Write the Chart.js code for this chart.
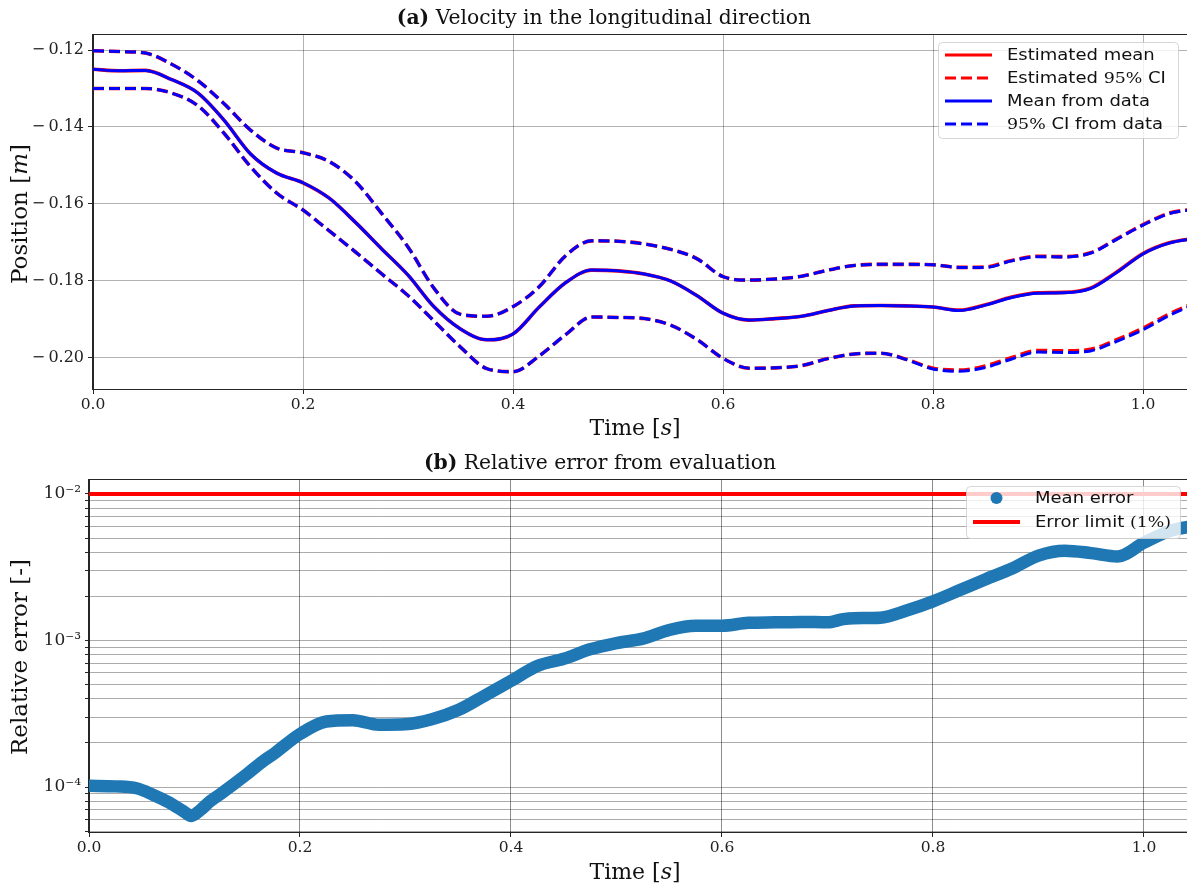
<!DOCTYPE html>
<html>
<head>
<meta charset="utf-8">
<script src="https://cdn.jsdelivr.net/npm/chart.js@4.4.1/dist/chart.umd.min.js"></script>
<style>
  body { margin: 0; width: 1187px; height: 889px; overflow: hidden; background: #fff; position: relative; }
  canvas { position: absolute; left: 0; }
  .txt { position: absolute; font-family: 'DejaVu Serif', serif; color: #111; white-space: nowrap; transform: translate(-50%, -50%); }
  .title { font-size: 20.3px; }
  .xlab { font-size: 22px; }
  .ylab { font-size: 23px; transform: translate(-50%, -50%) rotate(-90deg); }
</style>
</head>
<body>
<canvas id="posChart" width="1250" height="420" style="top:0"></canvas>
<canvas id="errChart" width="1250" height="420" style="top:445px"></canvas>

<div class="txt title" style="left:604px; top:17px"><b>(a)</b> Velocity in the longitudinal direction</div>
<div class="txt xlab" style="left:635px; top:427px">Time [<i>s</i>]</div>
<div class="txt ylab" style="left:19px; top:214px">Position [<i>m</i>]</div>
<div class="txt title" style="left:600px; top:462px"><b>(b)</b> Relative error from evaluation</div>
<div class="txt xlab" style="left:635px; top:871px">Time [<i>s</i>]</div>
<div class="txt ylab" style="left:19px; top:657px">Relative error [-]</div>

<script>
// time grid used by the position curves (s)
const posTime = [0, 0.025, 0.05, 0.075, 0.1, 0.125, 0.15, 0.175, 0.2, 0.225, 0.25, 0.275, 0.3, 0.325,
  0.35, 0.375, 0.4, 0.425, 0.45, 0.475, 0.5, 0.525, 0.55, 0.575, 0.6, 0.625, 0.65, 0.675, 0.7, 0.725,
  0.75, 0.775, 0.8, 0.825, 0.85, 0.875, 0.9, 0.925, 0.95, 0.975, 1.0, 1.025, 1.05];

const meanData = [-0.1250, -0.1254, -0.1253, -0.1277, -0.1312, -0.1383, -0.1470, -0.1520, -0.1545, -0.1585,
  -0.1648, -0.1717, -0.1785, -0.1868, -0.1925, -0.1953, -0.1938, -0.1868, -0.1805, -0.1772, -0.1774,
  -0.1782, -0.1800, -0.1838, -0.1884, -0.1902, -0.1898, -0.1892, -0.1877, -0.1865, -0.1864, -0.1865,
  -0.1868, -0.1877, -0.1863, -0.1843, -0.1832, -0.1831, -0.1820, -0.1778, -0.1730, -0.1702, -0.1690];
const upperData = [-0.1202, -0.1204, -0.1208, -0.1237, -0.1280, -0.1340, -0.1408, -0.1455, -0.1467, -0.1490,
  -0.1542, -0.1625, -0.1712, -0.1820, -0.1887, -0.1892, -0.1867, -0.1815, -0.1735, -0.1696, -0.1697,
  -0.1704, -0.1718, -0.1742, -0.1789, -0.1798, -0.1795, -0.1788, -0.1772, -0.1760, -0.1757, -0.1757,
  -0.1758, -0.1765, -0.1765, -0.1748, -0.1737, -0.1738, -0.1728, -0.1692, -0.1655, -0.1625, -0.1614];
const lowerData = [-0.1300, -0.1300, -0.1300, -0.1312, -0.1345, -0.1417, -0.1503, -0.1572, -0.1616, -0.1670,
  -0.1725, -0.1782, -0.1838, -0.1905, -0.1972, -0.2028, -0.2036, -0.1995, -0.1940, -0.1894, -0.1895,
  -0.1898, -0.1915, -0.1952, -0.2001, -0.2027, -0.2026, -0.2020, -0.2002, -0.1990, -0.1988, -0.2005,
  -0.2029, -0.2035, -0.2025, -0.2003, -0.1985, -0.1986, -0.1982, -0.1957, -0.1927, -0.1890, -0.1860];

// model estimates (almost on top of the data curves)
const estMean = [-0.1250, -0.1254, -0.1253, -0.1277, -0.1312, -0.1383, -0.1470, -0.1520, -0.1545, -0.1585,
  -0.1648, -0.1717, -0.1785, -0.1868, -0.1925, -0.1953, -0.1938, -0.1868, -0.1805, -0.1772, -0.1774,
  -0.1782, -0.1800, -0.1838, -0.1884, -0.1902, -0.1898, -0.1892, -0.1877, -0.1865, -0.1864, -0.1865,
  -0.1868, -0.1876, -0.1862, -0.1842, -0.1831, -0.1830, -0.1819, -0.1777, -0.1729, -0.1701, -0.1689];
const estUpper = [-0.1202, -0.1204, -0.1208, -0.1237, -0.1280, -0.1340, -0.1408, -0.1455, -0.1467, -0.1490,
  -0.1542, -0.1625, -0.1712, -0.1820, -0.1887, -0.1892, -0.1867, -0.1815, -0.1735, -0.1696, -0.1697,
  -0.1704, -0.1718, -0.1742, -0.1789, -0.1798, -0.1795, -0.1788, -0.1772, -0.1760, -0.1757, -0.1757,
  -0.1758, -0.1765, -0.1764, -0.1747, -0.1736, -0.1737, -0.1727, -0.1691, -0.1654, -0.1624, -0.1613];
const estLower = [-0.1300, -0.1300, -0.1300, -0.1312, -0.1345, -0.1417, -0.1503, -0.1572, -0.1616, -0.1670,
  -0.1725, -0.1782, -0.1838, -0.1905, -0.1972, -0.2028, -0.2036, -0.1995, -0.1940, -0.1894, -0.1895,
  -0.1898, -0.1915, -0.1952, -0.2001, -0.2027, -0.2026, -0.2020, -0.2002, -0.1990, -0.1988, -0.2004,
  -0.2027, -0.2032, -0.2021, -0.1999, -0.1981, -0.1982, -0.1978, -0.1953, -0.1923, -0.1886, -0.1856];

// relative error of the evaluation
const errTime = [0, 0.025, 0.045, 0.06, 0.075, 0.09, 0.097, 0.105, 0.115, 0.125, 0.15, 0.165, 0.175, 0.2,
  0.225, 0.25, 0.275, 0.3, 0.325, 0.35, 0.375, 0.4, 0.425, 0.45, 0.475, 0.5, 0.525, 0.55, 0.575, 0.6,
  0.625, 0.65, 0.675, 0.7, 0.715, 0.725, 0.75, 0.775, 0.8, 0.825, 0.85, 0.875, 0.9, 0.925, 0.95, 0.975,
  1.0, 1.025, 1.05];
const errData = [1.02e-4, 1.01e-4, 9.8e-5, 8.9e-5, 7.9e-5, 6.8e-5, 6.35e-5, 6.9e-5, 8.0e-5, 9.0e-5,
  1.23e-4, 1.50e-4, 1.68e-4, 2.30e-4, 2.80e-4, 2.86e-4, 2.66e-4, 2.68e-4, 2.90e-4, 3.35e-4, 4.20e-4,
  5.30e-4, 6.70e-4, 7.50e-4, 8.70e-4, 9.60e-4, 1.03e-3, 1.18e-3, 1.26e-3, 1.26e-3, 1.32e-3, 1.33e-3,
  1.34e-3, 1.33e-3, 1.40e-3, 1.42e-3, 1.43e-3, 1.60e-3, 1.85e-3, 2.20e-3, 2.62e-3, 3.10e-3, 3.80e-3,
  4.10e-3, 3.95e-3, 3.75e-3, 4.65e-3, 5.60e-3, 6.10e-3];
const errLimit = 0.01;

const timeTicks = [0, 0.2, 0.4, 0.6, 0.8, 1.0];
const posTicks = [-0.20, -0.18, -0.16, -0.14, -0.12];
const errExponents = [-5, -4, -3, -2];

const serif = "'DejaVu Serif', serif";
const sans = "'DejaVu Sans', sans-serif";
const sup = { '-': '\u207B', '2': '\u00B2', '3': '\u00B3', '4': '\u2074', '5': '\u2075' };

const pts = (xs, ys) => xs.map((x, i) => ({ x: x, y: ys[i] }));

// frame round the plot area plus a matplotlib style legend box
const framePlugin = {
  id: 'frame',
  afterDatasetsDraw(chart) {
    const a = chart.chartArea, ctx = chart.ctx;
    ctx.save();
    ctx.strokeStyle = '#262626';
    ctx.lineWidth = 1;
    ctx.strokeRect(a.left - 0.5, a.top - 0.5, a.right - a.left + 1, a.bottom - a.top + 1);
    ctx.restore();
  },
  afterDraw(chart, args, opts) {
    if (!opts.box) return;
    const ctx = chart.ctx, b = opts.box;
    ctx.save();
    ctx.fillStyle = 'rgba(255,255,255,0.8)';
    ctx.strokeStyle = 'rgba(204,204,204,0.8)';
    ctx.lineWidth = 1;
    ctx.beginPath();
    ctx.roundRect(b.x + 0.5, b.y + 0.5, b.w, b.h, 4);
    ctx.fill();
    ctx.stroke();
    opts.items.forEach((it, i) => {
      const y = b.y + opts.rowTop + i * opts.rowGap;
      const x0 = b.x + 7, x1 = x0 + 47;
      if (it.dot) {
        ctx.fillStyle = it.color;
        ctx.beginPath();
        ctx.arc((x0 + x1) / 2, y, 6, 0, Math.PI * 2);
        ctx.fill();
      } else {
        ctx.strokeStyle = it.color;
        ctx.lineWidth = it.width;
        ctx.setLineDash(it.dash || []);
        ctx.beginPath();
        ctx.moveTo(x0, y);
        ctx.lineTo(x1, y);
        ctx.stroke();
        ctx.setLineDash([]);
      }
      // label text is a little wide, so stretch it horizontally
      ctx.save();
      ctx.translate(b.x + opts.textLeft, y + 1);
      ctx.scale(1.2, 1);
      let tx = 0;
      ctx.fillStyle = '#111';
      ctx.textBaseline = 'middle';
      it.text.forEach(seg => {
        ctx.font = (seg[1] === 'serif' ? '14.5px ' + serif : '15px ' + sans);
        ctx.fillText(seg[0], tx, 0);
        tx += ctx.measureText(seg[0]).width;
      });
      ctx.restore();
    });
    ctx.restore();
  }
};

const tickFont = { family: serif, size: 15.5 };

new Chart(document.getElementById('posChart'), {
  type: 'line',
  data: {
    datasets: [
      { data: pts(posTime, meanData), borderColor: '#0000ff', borderWidth: 3 },
      { data: pts(posTime, upperData), borderColor: '#0000ff', borderWidth: 3, borderDash: [11, 5] },
      { data: pts(posTime, lowerData), borderColor: '#0000ff', borderWidth: 3, borderDash: [11, 5] },
      { data: pts(posTime, estMean), borderColor: '#ff0000', borderWidth: 3.6 },
      { data: pts(posTime, estUpper), borderColor: '#ff0000', borderWidth: 3.6, borderDash: [11, 5] },
      { data: pts(posTime, estLower), borderColor: '#ff0000', borderWidth: 3.6, borderDash: [11, 5] }
    ]
  },
  options: {
    responsive: false,
    animation: false,
    events: [],
    layout: { padding: { top: 35, right: 2, left: 0, bottom: 0 } },
    elements: { point: { radius: 0 }, line: { cubicInterpolationMode: 'monotone', fill: false } },
    datasets: { line: { clip: 0 } },
    plugins: {
      legend: { display: false },
      tooltip: { enabled: false },
      frame: {
        box: { x: 938, y: 42, w: 240, h: 96 },
        rowTop: 13, rowGap: 23, textLeft: 69,
        items: [
          { color: '#ff0000', width: 3, text: [['Estimated mean', 'sans']] },
          { color: '#ff0000', width: 3, dash: [11, 5], text: [['Estimated ', 'sans'], ['95%', 'serif'], [' CI', 'sans']] },
          { color: '#0000ff', width: 3, text: [['Mean from data', 'sans']] },
          { color: '#0000ff', width: 3, dash: [11, 5], text: [['95%', 'serif'], [' CI from data', 'sans']] }
        ]
      }
    },
    scales: {
      x: {
        type: 'linear', min: 0, max: 1.1,
        afterBuildTicks: s => { s.ticks = timeTicks.map(v => ({ value: v })); },
        afterFit: s => { s.height = 31; },
        grid: { color: 'rgba(0,0,0,0.3)', tickColor: '#262626', tickLength: 5 },
        border: { color: '#262626' },
        ticks: { font: tickFont, color: '#222', padding: 2, maxRotation: 0, autoSkip: false,
          callback: v => v.toFixed(1) }
      },
      y: {
        type: 'linear', min: -0.2081, max: -0.1161,
        afterBuildTicks: s => { s.ticks = posTicks.map(v => ({ value: v })); },
        afterFit: s => { s.width = 93; },
        grid: { color: 'rgba(0,0,0,0.3)', tickColor: '#262626', tickLength: 5 },
        border: { color: '#262626' },
        ticks: { font: { family: serif, size: 16 }, color: '#222', padding: 4, autoSkip: false,
          callback: v => '\u2212\u2009' + Math.abs(v).toFixed(2) }
      }
    }
  },
  plugins: [framePlugin]
});

// log ticks: 1..9 times each power of ten, labelled only at the decades
const errTicks = [];
errExponents.forEach(e => {
  for (let m = 1; m <= 9; m++) errTicks.push(m * Math.pow(10, e));
});
const decadeLabel = v => {
  const e = Math.round(Math.log10(v));
  if (Math.abs(v / Math.pow(10, e) - 1) > 1e-6) return '';
  return '10' + String(e).split('').map(c => sup[c]).join('');
};

new Chart(document.getElementById('errChart'), {
  type: 'line',
  data: {
    datasets: [
      { data: [{ x: 0, y: errLimit }, { x: 1.1, y: errLimit }], borderColor: '#ff0000', borderWidth: 4 },
      { data: pts(errTime, errData), borderColor: '#1f77b4', borderWidth: 12.5,
        borderCapStyle: 'round', borderJoinStyle: 'round', cubicInterpolationMode: 'monotone' }
    ]
  },
  options: {
    responsive: false,
    animation: false,
    events: [],
    layout: { padding: { top: 35, right: 2, left: 0, bottom: 0 } },
    elements: { point: { radius: 0 }, line: { fill: false } },
    datasets: { line: { clip: 0 } },
    plugins: {
      legend: { display: false },
      tooltip: { enabled: false },
      frame: {
        box: { x: 966, y: 41, w: 214, h: 52 },
        rowTop: 12, rowGap: 24, textLeft: 69,
        items: [
          { color: '#1f77b4', dot: true, text: [['Mean error', 'sans']] },
          { color: '#ff0000', width: 4, text: [['Error limit ', 'sans'], ['(1%)', 'serif']] }
        ]
      }
    },
    scales: {
      x: {
        type: 'linear', min: 0, max: 1.0986,
        afterBuildTicks: s => { s.ticks = timeTicks.map(v => ({ value: v })); },
        afterFit: s => { s.height = 33; },
        grid: { color: 'rgba(0,0,0,0.45)', tickColor: '#262626', tickLength: 5 },
        border: { color: '#262626' },
        ticks: { font: tickFont, color: '#222', padding: 2, maxRotation: 0, autoSkip: false,
          callback: v => v.toFixed(1) }
      },
      y: {
        type: 'logarithmic', min: 4.93e-5, max: 1.246e-2,
        afterBuildTicks: s => {
          s.ticks = errTicks.filter(v => v >= s.min && v <= s.max).map(v => ({ value: v }));
        },
        afterFit: s => { s.width = 89; },
        grid: { color: 'rgba(0,0,0,0.33)', tickColor: '#262626', tickLength: 4 },
        border: { color: '#262626' },
        ticks: { font: { family: serif, size: 17 }, color: '#222', padding: 4, autoSkip: false, callback: decadeLabel }
      }
    }
  },
  plugins: [framePlugin]
});
</script>
</body>
</html>
